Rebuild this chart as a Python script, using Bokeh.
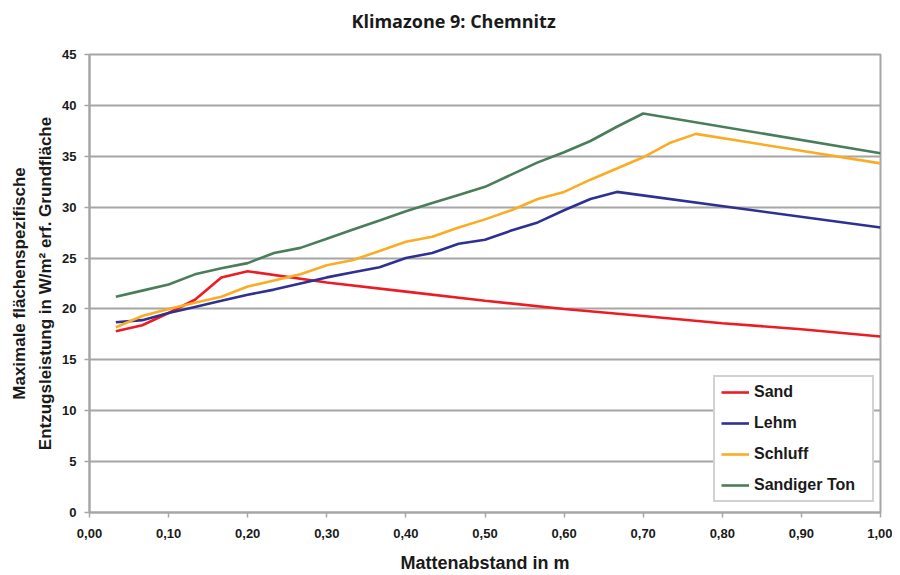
from bokeh.plotting import figure
from bokeh.models import Range1d, FixedTicker, Legend, LegendItem, Title
from bokeh.embed import file_html
from bokeh.resources import INLINE

title_text = "Klimazone 9: Chemnitz"
x_label = "Mattenabstand in m"
y_label_1 = "Maximale flächenspezifische"
y_label_2 = "Entzugsleistung in W/m² erf. Grundfläche"

x_ticks = [0.0, 0.1, 0.2, 0.3, 0.4, 0.5, 0.6, 0.7, 0.8, 0.9, 1.0]
x_tick_labels = ["0,00", "0,10", "0,20", "0,30", "0,40", "0,50", "0,60", "0,70", "0,80", "0,90", "1,00"]
y_ticks = [0, 5, 10, 15, 20, 25, 30, 35, 40, 45]

sand_x = [0.0333, 0.0667, 0.1, 0.1333, 0.1667, 0.2, 0.3, 0.4, 0.5, 0.6, 0.7, 0.8, 0.9, 1.0]
sand_y = [17.8, 18.4, 19.6, 20.9, 23.1, 23.7, 22.6, 21.7, 20.8, 20.0, 19.3, 18.6, 18.0, 17.3]

lehm_x = [0.0333, 0.0667, 0.1, 0.1333, 0.1667, 0.2, 0.2333, 0.2667, 0.3, 0.3333, 0.3667,
          0.4, 0.4333, 0.4667, 0.5, 0.5333, 0.5667, 0.6, 0.6333, 0.6667, 1.0]
lehm_y = [18.7, 18.9, 19.6, 20.2, 20.8, 21.4, 21.9, 22.5, 23.1, 23.6, 24.1,
          25.0, 25.5, 26.4, 26.8, 27.7, 28.5, 29.7, 30.8, 31.5, 28.0]

schluff_x = [0.0333, 0.0667, 0.1, 0.1333, 0.1667, 0.2, 0.2333, 0.2667, 0.3, 0.3333, 0.3667,
             0.4, 0.4333, 0.4667, 0.5, 0.5333, 0.5667, 0.6, 0.6333, 0.6667, 0.7, 0.7333, 0.7667, 1.0]
schluff_y = [18.2, 19.3, 20.0, 20.6, 21.2, 22.2, 22.8, 23.4, 24.3, 24.8, 25.7,
             26.6, 27.1, 28.0, 28.8, 29.7, 30.8, 31.5, 32.7, 33.8, 34.9, 36.3, 37.2, 34.3]

ton_x = [0.0333, 0.0667, 0.1, 0.1333, 0.1667, 0.2, 0.2333, 0.2667, 0.3, 0.3333, 0.3667,
         0.4, 0.4333, 0.4667, 0.5, 0.5333, 0.5667, 0.6, 0.6333, 0.6667, 0.7, 1.0]
ton_y = [21.2, 21.8, 22.4, 23.4, 24.0, 24.5, 25.5, 26.0, 26.9, 27.8, 28.7,
         29.6, 30.4, 31.2, 32.0, 33.2, 34.4, 35.4, 36.5, 37.9, 39.2, 35.3]

series_names = ["Sand", "Lehm", "Schluff", "Sandiger Ton"]
series_colors = ["#ed1c24", "#2e3192", "#fbac25", "#4a7d5a"]

GRID = "#a6a6a6"
TXT = "#1a1a1a"

p = figure(frame_width=791, frame_height=458, output_backend="svg", toolbar_location=None,
           x_range=Range1d(0, 1), y_range=Range1d(0, 45), title=None,
           min_border_left=89, min_border_right=12, min_border_top=54, min_border_bottom=60)

spacer = Title(text=" ", text_font_size="18px", standoff=0, offset=0)
main_title = Title(text=title_text, align="left", offset=262, standoff=0,
                   text_font="Open Sans", text_font_size="18px", text_font_style="bold",
                   text_color=TXT)
p.add_layout(spacer, "above")
p.add_layout(main_title, "above")

p.outline_line_color = GRID
p.outline_line_width = 2
p.background_fill_color = "white"
p.border_fill_color = "white"

p.xgrid.visible = False
p.ygrid.grid_line_color = GRID
p.ygrid.grid_line_width = 2

p.xaxis.ticker = FixedTicker(ticks=x_ticks)
p.xaxis.major_label_overrides = {t: l for t, l in zip(x_ticks, x_tick_labels)}
p.yaxis.ticker = FixedTicker(ticks=y_ticks)

for ax in (p.xaxis[0], p.yaxis[0]):
    ax.axis_line_color = GRID
    ax.axis_line_width = 2
    ax.major_tick_line_color = GRID
    ax.major_tick_line_width = 1.5
    ax.major_tick_in = 0
    ax.major_tick_out = 5
    ax.minor_tick_line_color = None
    ax.major_label_text_font = "Liberation Sans"
    ax.major_label_text_font_style = "bold"
    ax.major_label_text_font_size = "13px"
    ax.major_label_text_color = TXT

p.xaxis.major_label_standoff = 11
p.yaxis.major_label_standoff = 8

p.xaxis.axis_label = x_label
p.xaxis.axis_label_text_font = "Liberation Sans"
p.xaxis.axis_label_text_font_style = "bold"
p.xaxis.axis_label_text_font_size = "18px"
p.xaxis.axis_label_text_color = TXT
p.xaxis.axis_label_standoff = 12

lab2 = Title(text=y_label_2, align="center", text_font="Liberation Sans", text_font_style="bold",
             text_font_size="17px", text_color=TXT, offset=0, standoff=10)
lab1 = Title(text=y_label_1, align="center", text_font="Liberation Sans", text_font_style="bold",
             text_font_size="17px", text_color=TXT, offset=0, standoff=0)
p.add_layout(lab2, "left")
p.add_layout(lab1, "left")

renderers = []
for xs, ys, c in [(sand_x, sand_y, series_colors[0]), (lehm_x, lehm_y, series_colors[1]),
                  (schluff_x, schluff_y, series_colors[2]), (ton_x, ton_y, series_colors[3])]:
    r = p.line(xs, ys, line_color=c, line_width=2.6)
    renderers.append(r)

legend = Legend(items=[LegendItem(label=n, renderers=[r]) for n, r in zip(series_names, renderers)],
                location=(624, 10))
legend.label_text_font = "Liberation Sans"
legend.label_text_font_style = "bold"
legend.label_text_font_size = "16px"
legend.label_text_color = TXT
legend.border_line_color = GRID
legend.border_line_width = 2
legend.background_fill_color = "white"
legend.background_fill_alpha = 1
legend.glyph_width = 28
legend.glyph_height = 18
legend.label_height = 18
legend.label_width = 112
legend.spacing = 13
legend.padding = 6
legend.margin = 0
legend.label_standoff = 5
p.add_layout(legend)

open("out.html", "w").write(file_html(p, INLINE))
